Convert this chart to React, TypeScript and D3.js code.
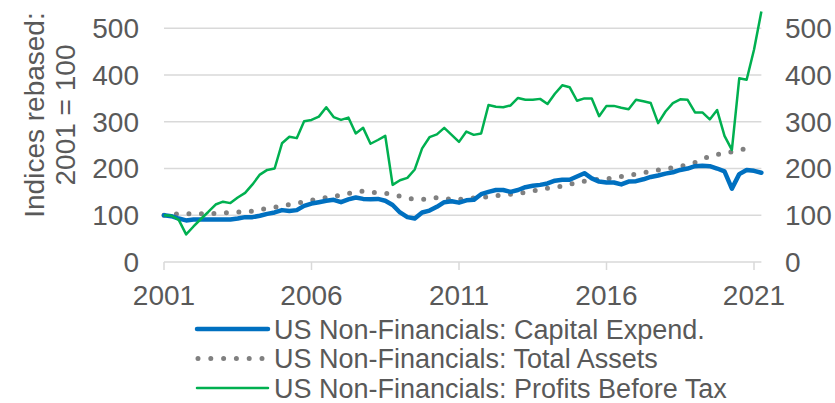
import React from "react";
import * as d3 from "d3";

const startYear = 2001;
const capex = [100, 98, 93, 89, 91, 91, 91, 91, 91, 91, 93, 96, 96, 99, 103, 106, 111, 109, 111, 120, 125, 128, 131, 133, 128, 134, 138, 135, 134, 135, 131, 122, 106, 96, 93, 106, 110, 118, 128, 130, 127, 132, 133, 145, 150, 154, 154, 150, 154, 160, 163, 165, 168, 174, 176, 176, 183, 190, 179, 172, 170, 170, 166, 172, 173, 177, 182, 185, 189, 192, 197, 200, 205, 206, 205, 200, 194, 157, 188, 197, 195, 191];
const assets = [100, 102, 103, 103, 103, 103, 104, 104, 105, 106, 107, 108, 109, 112, 115, 117, 120, 123, 125, 129, 132, 135, 138, 140, 143, 147, 149, 152, 150, 148, 147, 144, 141, 137, 134, 134, 135, 138, 137, 133, 134, 135, 137, 138, 140, 142, 143, 145, 147, 149, 152, 155, 158, 160, 162, 166, 170, 173, 175, 177, 178, 180, 183, 186, 188, 191, 194, 197, 199, 202, 205, 208, 213, 220, 226, 230, 233, 236, 239, 243, 247];
const profits = [100, 99, 90, 59, 76, 92, 107, 123, 129, 126, 138, 148, 166, 187, 197, 200, 254, 268, 265, 301, 304, 311, 331, 310, 304, 309, 275, 287, 253, 261, 270, 165, 175, 180, 198, 243, 267, 273, 287, 272, 257, 279, 272, 275, 336, 332, 331, 335, 351, 347, 347, 349, 338, 360, 378, 374, 345, 350, 350, 312, 334, 334, 330, 327, 347, 344, 340, 297, 322, 340, 348, 347, 320, 320, 305, 325, 270, 240, 393, 390, 454, 536];
const yTicks = [0, 100, 200, 300, 400, 500];
const xTicks = [2001, 2006, 2011, 2016, 2021];
const seriesNames = [
  "US Non-Financials: Capital Expend.",
  "US Non-Financials: Total Assets",
  "US Non-Financials: Profits Before Tax",
];
const axisTitle = ["Indices rebased:", "2001 = 100"];

const W = 835;
const H = 403;
const FONT = "'Liberation Sans', Arial, sans-serif";
const TEXT = "#595959";
const GRID = "#D9D9D9";
const BLUE = "#0070C0";
const GRAY = "#808080";
const GREEN = "#00B050";

export default function App() {
  const x = d3.scaleLinear().domain([2001, 2021]).range([164, 754]);
  const y = d3.scaleLinear().domain([0, 500]).range([262, 28.3]);
  const xEnd = x(startYear + 81 / 4);
  const line = d3
    .line<number>()
    .x((_, i) => x(startYear + i / 4))
    .y((d) => y(d));

  const legendY = [329, 358.5, 388];
  const legendStyles = [
    { stroke: BLUE, width: 4.5, dash: undefined as string | undefined },
    { stroke: GRAY, width: 5, dash: "0 12.8" },
    { stroke: GREEN, width: 2.5, dash: undefined },
  ];

  return (
    <svg
      width={W}
      height={H}
      style={{ position: "absolute", left: 0, top: 0, background: "#fff" }}
      fontFamily={FONT}
    >
      {yTicks.map((t) =>
        t === 0 ? null : (
          <line key={"g" + t} x1={x(2001)} x2={xEnd} y1={y(t)} y2={y(t)} stroke={GRID} strokeWidth={1.5} />
        )
      )}
      <line x1={x(2001)} x2={xEnd} y1={y(0)} y2={y(0)} stroke={GRID} strokeWidth={1.5} />
      {xTicks.map((t) => (
        <line key={"t" + t} x1={x(t)} x2={x(t)} y1={y(0)} y2={y(0) + 8} stroke={GRID} strokeWidth={1.5} />
      ))}
      {yTicks.map((t) => (
        <text key={"l" + t} x={139} y={y(t) + 9.8} textAnchor="end" fontSize={28} fill={TEXT}>
          {t}
        </text>
      ))}
      {yTicks.map((t) => (
        <text key={"r" + t} x={785} y={y(t) + 9.8} textAnchor="start" fontSize={28} fill={TEXT}>
          {t}
        </text>
      ))}
      {xTicks.map((t) => (
        <text key={"x" + t} x={x(t)} y={305} textAnchor="middle" fontSize={28} fill={TEXT}>
          {t}
        </text>
      ))}
      <text transform="translate(44,115) rotate(-90)" textAnchor="middle" fontSize={28} fill={TEXT}>
        {axisTitle[0]}
      </text>
      <text transform="translate(75,115) rotate(-90)" textAnchor="middle" fontSize={28} fill={TEXT}>
        {axisTitle[1]}
      </text>

      <path d={line(assets) || ""} fill="none" stroke={GRAY} strokeWidth={5} strokeDasharray="0 12.5" strokeLinecap="round" />
      <path d={line(capex) || ""} fill="none" stroke={BLUE} strokeWidth={4.5} strokeLinejoin="round" strokeLinecap="round" />
      <path d={line(profits) || ""} fill="none" stroke={GREEN} strokeWidth={2.5} strokeLinejoin="round" />

      {seriesNames.map((name, i) => (
        <g key={name}>
          <line
            x1={i === 1 ? 198 : 197}
            x2={i === 1 ? 262 : 268}
            y1={legendY[i]}
            y2={legendY[i]}
            stroke={legendStyles[i].stroke}
            strokeWidth={legendStyles[i].width}
            strokeDasharray={legendStyles[i].dash}
            strokeLinecap="round"
          />
          <text x={274} y={legendY[i] + 9.5} fontSize={27} fill={TEXT}>
            {name}
          </text>
        </g>
      ))}
    </svg>
  );
}
